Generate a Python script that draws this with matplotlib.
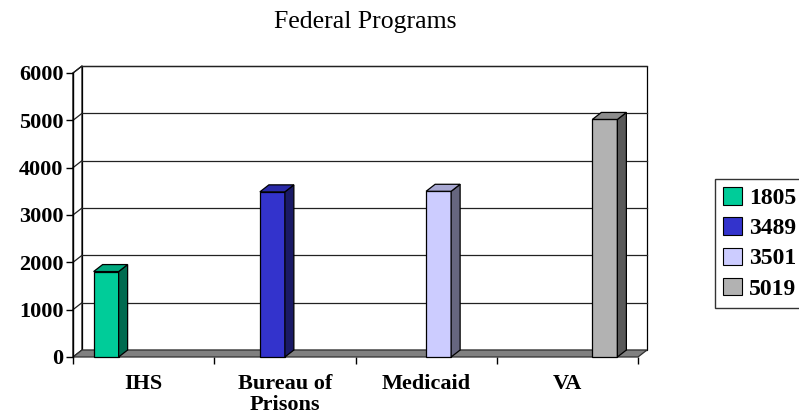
import matplotlib
matplotlib.use("Agg")
import matplotlib.pyplot as plt
from matplotlib.patches import Polygon, Patch

# data
categories = ["IHS", "Bureau of\nPrisons", "Medicaid", "VA"]
series_labels = ["1805", "3489", "3501", "5019"]
values = [1805, 3489, 3501, 5019]
yticks = [0, 1000, 2000, 3000, 4000, 5000, 6000]

front_cols = ["#00CC99", "#3333CC", "#CCCCFF", "#B2B2B2"]
side_cols = ["#006B50", "#1A1A66", "#66667F", "#595959"]
top_cols = ["#00A87E", "#2A2AA8", "#A8A8D2", "#8C8C8C"]

W, H = 799, 420
fig = plt.figure(figsize=(W / 100, H / 100), dpi=100)
fig.patch.set_facecolor("white")

# front plane of the plot area, pixels
x0, x1, ybot, ytop = 73, 638, 357, 73
ax = fig.add_axes([x0 / W, 1 - ybot / H, (x1 - x0) / W, (ybot - ytop) / H])
ax.set_xlim(0, 4)
ax.set_ylim(0, 6000)
ax.set_facecolor("none")
for s in ax.spines.values():
    s.set_visible(False)

# depth offset (9 px right, 7 px up) in data units
dx = 9 * 4 / (x1 - x0)
dy = 7 * 6000 / (ybot - ytop)
ymax = yticks[-1]
ncat = len(categories)

def poly(pts, fc, ec="black", lw=0.9, z=1):
    ax.add_patch(Polygon(pts, closed=True, facecolor=fc, edgecolor=ec,
                         linewidth=lw, zorder=z, clip_on=False))

# back wall
poly([(dx, dy), (ncat + dx, dy), (ncat + dx, ymax + dy), (dx, ymax + dy)], "white", z=0)
# left wall
poly([(0, 0), (dx, dy), (dx, ymax + dy), (0, ymax)], "white", z=0.5)
# gridlines on back wall and left wall
for t in yticks[1:]:
    ax.plot([dx, ncat + dx], [t + dy, t + dy], color="#222222", lw=0.9, zorder=1, clip_on=False)
    ax.plot([0, dx], [t, t + dy], color="#222222", lw=0.9, zorder=1, clip_on=False)
# floor
poly([(0, 0), (ncat, 0), (ncat + dx, dy), (dx, dy)], "#808080", ec="#303030", z=2)

# bars: series j sits in category j
gap = 0.146
bw = (1 - 2 * gap) / len(values)
for j, v in enumerate(values):
    xl = j + gap + j * bw
    xr = xl + bw
    poly([(xl, 0), (xr, 0), (xr, v), (xl, v)], front_cols[j], z=3)
    poly([(xr, 0), (xr + dx, dy), (xr + dx, v + dy), (xr, v)], side_cols[j], z=3)
    poly([(xl, v), (xr, v), (xr + dx, v + dy), (xl + dx, v + dy)], top_cols[j], z=3)

# front axis line
ax.plot([0, 0], [0, ymax], color="black", lw=1, zorder=4, clip_on=False)

tickfont = dict(family="Liberation Serif", weight="bold", size=16)
ax.set_yticks(yticks)
ax.set_yticklabels([str(t) for t in yticks], **tickfont)
ax.tick_params(axis="y", direction="out", length=5, width=1, pad=2)

ax.set_xticks(range(ncat + 1))
ax.set_xticklabels([])
ax.set_xticks([i + 0.5 for i in range(ncat)], minor=True)
ax.set_xticklabels(categories, minor=True, **tickfont)
ax.tick_params(axis="x", which="major", direction="out", length=5, width=1)
ax.tick_params(axis="x", which="minor", length=0, pad=12)
for lab in ax.get_xticklabels(minor=True):
    lab.set_linespacing(1.1)

fig.text(365 / W, 1 - 22 / H, "Federal Programs", ha="center", va="center",
         family="Liberation Serif", size=18.5)

handles = [Patch(facecolor=c, edgecolor="black", linewidth=0.8) for c in front_cols]
leg = fig.legend(handles, series_labels, loc="upper left",
                 bbox_to_anchor=(715 / W, 1 - 179 / H), bbox_transform=fig.transFigure,
                 prop=dict(family="Liberation Serif", weight="bold", size=17),
                 frameon=True, fancybox=False, shadow=False,
                 handlelength=0.8, handleheight=0.75, handletextpad=0.3,
                 labelspacing=0.35, borderpad=0.35, borderaxespad=0)
leg.get_frame().set_edgecolor("black")
leg.get_frame().set_linewidth(1)

fig.savefig("out.png", dpi=100)
